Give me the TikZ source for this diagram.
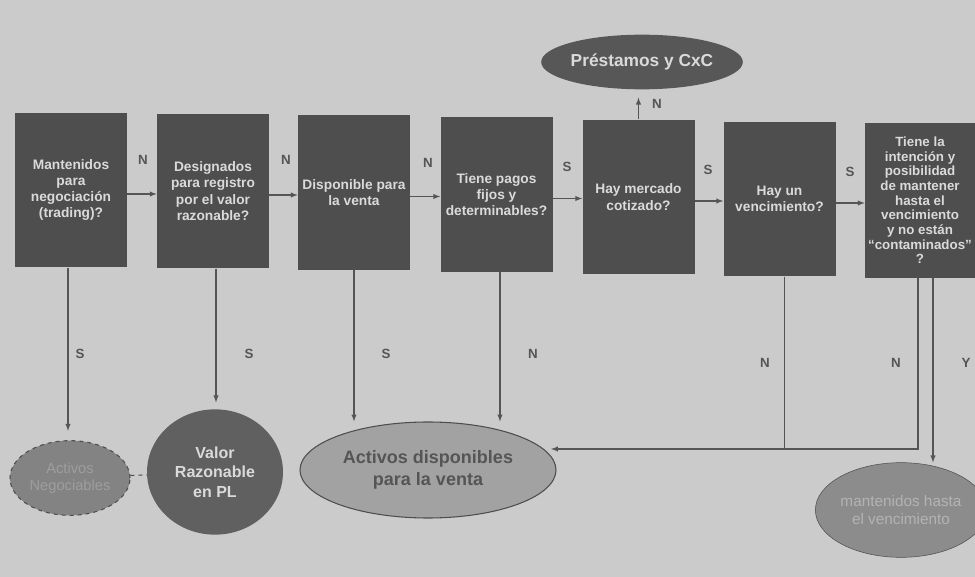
\documentclass[tikz,border=0pt]{standalone}
\usepackage{fontspec}
\setmainfont{Liberation Sans}
\usetikzlibrary{shapes.geometric}

\definecolor{fondo}{HTML}{CBCBCB}
\definecolor{caja}{HTML}{4E4E4E}
\definecolor{letra}{HTML}{DADADA}
\definecolor{rotulo}{HTML}{555555}

\begin{document}
\begin{tikzpicture}
  [x=0.75pt,y=-0.75pt,>=latex,
   pregunta/.style={rectangle,fill=caja,text=letra,inner sep=0pt,minimum width=84pt,minimum height=116pt,align=center,font=\fontsize{10.3}{12.2}\selectfont\bfseries},
   rotulo/.style={text=rotulo,font=\fontsize{10}{12}\selectfont\bfseries,inner sep=0pt},
   linea/.style={draw=rotulo,thick}]
  \fill[fondo] (0,0) rectangle (975,577);
  \useasboundingbox (0,0) rectangle (975,577);

  \node (b1) at (71,190) [pregunta] {Mantenidos\\para\\negociación\\(trading)?};
  \node (b2) at (213,191) [pregunta] {Designados\\para registro\\por el valor\\razonable?};
  \node (b3) at (354,192.5) [pregunta] {Disponible para\\la venta};
  \node (b4) at (496.5,194.5) [pregunta] {Tiene pagos\\fijos y\\determinables?};
  \node (b5) at (638.5,197) [pregunta] {Hay mercado\\cotizado?};
  \node (b6) at (779.5,199) [pregunta] {Hay un\\vencimiento?};
  \node (b7) at (920,200.5) [pregunta,minimum width=82.5pt,font=\fontsize{10}{11}\selectfont\bfseries] {Tiene la\\intención y\\posibilidad\\de mantener\\hasta el\\vencimiento\\y no están\\“contaminados”\\?};

  \node (pcc) at (642,62) [ellipse,fill=caja!95,text=letra,minimum width=150pt,minimum height=41pt,inner sep=0pt,font=\fontsize{13}{15}\selectfont\bfseries] {Préstamos y CxC};
  \node (neg) at (70,478) [ellipse,fill=caja!70,draw=caja,dashed,thick,text=caja!55,minimum width=90pt,minimum height=56pt,inner sep=0pt,align=center,font=\fontsize{11}{13}\selectfont] {Activos\\Negociables};
  \node (vrp) at (215,472) [ellipse,fill=caja!90,text=letra,minimum width=102pt,minimum height=94pt,inner sep=0pt,align=center,font=\fontsize{12}{14.5}\selectfont\bfseries] {Valor\\Razonable\\en PL};
  \node (avv) at (428,470) [ellipse,fill=fondo!80!black,draw=caja,thick,text=rotulo,minimum width=192pt,minimum height=72pt,inner sep=0pt,align=center,font=\fontsize{13.5}{16}\selectfont\bfseries] {Activos disponibles\\para la venta};
  \node (mhv) at (901,510) [ellipse,fill=caja!65,draw=caja,text=fondo!88!black,minimum width=110pt,minimum height=71pt,inner sep=0pt,align=center,font=\fontsize{11.5}{14}\selectfont] {mantenidos hasta\\el vencimiento};

  \foreach \from/\to in {b1/b2, b2/b3, b3/b4, b4/b5, b5/b6, b6/b7}
    \draw[linea,->] ([yshift=-3pt]\from.east) -- ([yshift=-3pt]\from.east -| \to.west);

  \draw[linea,->,shorten >=6pt] (b5.north) -- (b5.north |- pcc.south);
  \draw[linea,->,shorten >=7pt] ([xshift=-2.25pt]b1.south) -- ([xshift=-2.25pt]b1.south |- neg.north);
  \draw[linea,->,shorten >=5pt] ([xshift=2.25pt]b2.south) -- ([xshift=2.25pt]b2.south |- vrp.north);
  \draw[linea,->] (b3.south) -- (b3.south |- avv.north);
  \draw[linea,->] ([xshift=2.6pt]b4.south) -- ([xshift=2.6pt]b4.south |- avv.north);
  \draw[dashed,draw=caja,thick] (neg) -- (vrp);

  \coordinate (ent) at (551,449);
  \draw[linea,->] ([xshift=-1.5pt]b7.south) |- (ent);
  \draw[linea] ([xshift=3.4pt]b6.south) -- ([xshift=3.4pt]b6.south |- ent);
  \draw[linea,->] ([xshift=9.75pt]b7.south) -- ([xshift=9.75pt]b7.south |- mhv.north);

  \node (l12) at (143,160) [rotulo] {N};
  \node (l23) at (286,160) [rotulo] {N};
  \node (l34) at (428,163) [rotulo] {N};
  \node (l45) at (567,167) [rotulo] {S};
  \node (l56) at (708,170) [rotulo] {S};
  \node (l67) at (850,172) [rotulo] {S};
  \node (lp)  at (657,104) [rotulo] {N};
  \node (d1) at (80,354) [rotulo] {S};
  \node (d2) at (249,354) [rotulo] {S};
  \node (d3) at (386,354) [rotulo] {S};
  \node (d4) at (533,354) [rotulo] {N};
  \node (d6) at (765,363) [rotulo] {N};
  \node (d7) at (896,363) [rotulo] {N};
  \node (d8) at (966,363) [rotulo] {Y};
\end{tikzpicture}
\end{document}
